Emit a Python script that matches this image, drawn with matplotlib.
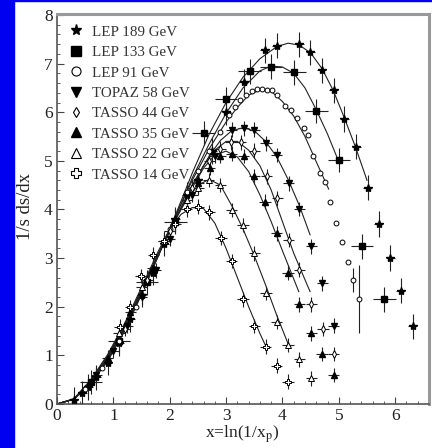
import matplotlib
matplotlib.use("Agg")
import matplotlib.pyplot as plt
from matplotlib.patches import Rectangle
from matplotlib.lines import Line2D
from matplotlib.ticker import MultipleLocator

plt.rcParams['font.family'] = ['Liberation Serif', 'DejaVu Serif']
plt.rcParams['mathtext.fontset'] = 'stix'

labels = ["LEP 189 GeV", "LEP 133 GeV", "LEP 91 GeV", "TOPAZ 58 GeV",
          "TASSO 44 GeV", "TASSO 35 GeV", "TASSO 22 GeV", "TASSO 14 GeV"]

# fit curves
c189_x = [0, 0.3, 0.6, 0.9, 1.2, 1.5, 1.8, 2.1, 2.4, 2.7, 3.0, 3.3, 3.6, 3.9, 4.1, 4.3, 4.5, 4.7, 4.9, 5.1, 5.3, 5.5]
c189_y = [0, 0.1, 0.42, 0.88, 1.5, 2.25, 3.05, 3.88, 4.75, 5.55, 6.2, 6.72, 7.1, 7.35, 7.42, 7.38, 7.22, 6.9, 6.45, 5.88, 5.27, 4.6]
c133_x = [0, 0.3, 0.6, 0.9, 1.2, 1.5, 1.8, 2.1, 2.4, 2.7, 3.0, 3.3, 3.6, 3.8, 4.0, 4.2, 4.4, 4.6, 4.8, 5.0]
c133_y = [0, 0.1, 0.43, 0.9, 1.52, 2.27, 3.05, 3.85, 4.65, 5.35, 5.98, 6.5, 6.85, 6.95, 6.93, 6.8, 6.5, 6.05, 5.55, 4.98]
c91_x = [0, 0.3, 0.6, 0.9, 1.2, 1.5, 1.8, 2.1, 2.4, 2.7, 3.0, 3.2, 3.4, 3.6, 3.8, 4.0, 4.2, 4.4, 4.6, 4.82]
c91_y = [0, 0.1, 0.44, 0.92, 1.55, 2.3, 3.08, 3.85, 4.6, 5.25, 5.8, 6.1, 6.35, 6.46, 6.43, 6.22, 5.92, 5.5, 4.98, 4.42]
c58_x = [0, 0.3, 0.6, 0.9, 1.2, 1.5, 1.8, 2.1, 2.4, 2.7, 2.9, 3.1, 3.3, 3.5, 3.7, 3.9, 4.1, 4.3, 4.49]
c58_y = [0, 0.1, 0.45, 0.93, 1.56, 2.3, 3.08, 3.8, 4.5, 5.1, 5.42, 5.62, 5.68, 5.62, 5.4, 5.08, 4.62, 4.08, 3.48]
c44_x = [0, 0.3, 0.6, 0.9, 1.2, 1.5, 1.8, 2.1, 2.4, 2.6, 2.8, 3.0, 3.2, 3.4, 3.6, 3.8, 4.0, 4.2, 4.49]
c44_y = [0, 0.1, 0.46, 0.95, 1.58, 2.32, 3.08, 3.8, 4.5, 4.9, 5.22, 5.4, 5.4, 5.22, 4.9, 4.4, 3.75, 3.1, 2.31]
c35_x = [0, 0.3, 0.6, 0.9, 1.2, 1.5, 1.8, 2.1, 2.4, 2.6, 2.8, 3.0, 3.2, 3.4, 3.6, 3.8, 4.0, 4.29]
c35_y = [0, 0.1, 0.47, 0.97, 1.6, 2.33, 3.08, 3.78, 4.45, 4.85, 5.12, 5.2, 5.08, 4.78, 4.3, 3.75, 3.15, 2.31]
c22_x = [0, 0.3, 0.6, 0.9, 1.2, 1.5, 1.8, 2.1, 2.3, 2.5, 2.7, 2.9, 3.1, 3.3, 3.5, 3.7, 3.9, 4.11]
c22_y = [0, 0.1, 0.48, 1.0, 1.63, 2.36, 3.1, 3.8, 4.2, 4.5, 4.62, 4.5, 4.08, 3.6, 3.05, 2.45, 1.82, 1.21]
c14_x = [0, 0.3, 0.6, 0.9, 1.2, 1.5, 1.8, 2.0, 2.2, 2.4, 2.6, 2.8, 3.0, 3.2, 3.4, 3.6, 3.7]
c14_y = [0, 0.11, 0.5, 1.02, 1.66, 2.4, 3.15, 3.6, 3.9, 4.04, 4.02, 3.72, 3.2, 2.6, 2.0, 1.45, 1.2]

# data points
d189_x = [0.30, 0.45, 0.55, 0.70, 0.90, 1.10, 1.30, 1.50, 1.70, 1.90, 2.10, 2.30, 2.50, 2.75, 3.00, 3.31, 3.69, 3.90,
          4.30, 4.49, 4.70, 4.91, 5.10, 5.31, 5.51, 5.71, 5.91, 6.10, 6.31]
d189_y = [0.08, 0.22, 0.35, 0.55, 0.85, 1.25, 1.75, 2.25, 2.70, 3.30, 3.80, 4.30, 4.60, 5.20, 6.00, 6.63, 7.27, 7.37,
          7.40, 7.23, 6.86, 6.45, 5.86, 5.29, 4.45, 3.70, 3.00, 2.33, 1.60]
d189_xe = 0.08
d189_ye = 0.26
d133_x = [0.60, 1.10, 1.60, 2.10, 2.60, 3.00, 3.42, 3.80, 4.21, 4.60, 5.00, 5.41, 5.81]
d133_y = [0.45, 1.30, 2.50, 3.75, 5.57, 6.27, 6.84, 6.94, 6.82, 6.03, 5.02, 3.24, 2.15]
d133_xe = 0.2
d133_ye = 0.25
d91_x = [0.5, 0.8, 1.1, 1.4, 1.7, 2.0, 2.3, 2.5, 2.7, 2.9, 3.05, 3.15, 3.25, 3.35, 3.46, 3.55, 3.64, 3.72, 3.81, 3.9,
         4.05, 4.15, 4.26, 4.38, 4.45, 4.55, 4.66, 4.76, 4.85, 4.95, 5.06, 5.16, 5.25, 5.35]
d91_y = [0.3, 0.75, 1.3, 2.0, 2.8, 3.6, 4.35, 4.8, 5.2, 5.6, 5.95, 6.1, 6.26, 6.35, 6.44, 6.47, 6.47, 6.46, 6.45, 6.35,
         6.12, 6.05, 5.88, 5.67, 5.53, 5.09, 4.75, 4.57, 4.16, 3.73, 3.33, 2.92, 2.55, 2.16]
d91_ye = [0.03] * 32 + [0.25, 0.7]
d58_x = [0.7, 1.0, 1.25, 1.5, 1.75, 2.0, 2.4, 2.8, 3.10, 3.31, 3.50, 3.71, 3.90, 4.11, 4.30, 4.51, 4.71, 4.91]
d58_y = [0.6, 1.1, 1.6, 2.2, 2.75, 3.4, 4.3, 5.1, 5.64, 5.67, 5.64, 5.36, 5.12, 4.54, 4.01, 3.24, 2.48, 1.61]
d44_x = [1.2, 1.6, 2.0, 2.4, 2.7, 2.9, 3.08, 3.26, 3.50, 3.72, 3.91, 4.11, 4.30, 4.51, 4.72, 4.91]
d44_y = [1.55, 2.55, 3.55, 4.45, 5.0, 5.25, 5.38, 5.38, 5.21, 4.68, 4.23, 3.37, 2.76, 2.05, 1.54, 1.03]
d35_x = [0.9, 1.3, 1.7, 2.1, 2.5, 2.71, 2.90, 3.10, 3.31, 3.50, 3.69, 3.90, 4.10, 4.30, 4.51, 4.70, 4.91]
d35_y = [0.95, 1.9, 2.8, 3.75, 4.55, 4.85, 5.10, 5.15, 5.10, 4.68, 4.16, 3.51, 2.70, 2.05, 1.45, 1.03, 0.60]
d22_x = [1.1, 1.5, 1.9, 2.3, 2.50, 2.69, 2.90, 3.10, 3.30, 3.50, 3.71, 3.90, 4.10, 4.30, 4.51]
d22_y = [1.45, 2.4, 3.35, 4.2, 4.45, 4.61, 4.50, 3.99, 3.68, 3.10, 2.28, 1.69, 1.21, 0.92, 0.53]
d14_x = [1.11, 1.30, 1.49, 1.71, 1.90, 2.10, 2.30, 2.51, 2.70, 2.91, 3.10, 3.30, 3.50, 3.70, 3.90, 4.10]
d14_y = [1.59, 1.99, 2.63, 3.07, 3.35, 3.70, 4.00, 4.06, 3.94, 3.41, 2.94, 2.15, 1.60, 1.18, 0.79, 0.46]
tasso_xe = 0.1
tasso_ye = 0.15

fig = plt.figure(figsize=(4.32, 4.48), dpi=100)
fig.patch.set_facecolor('white')
fig.patches.append(Rectangle((0, 0), 14 / 432, 1, transform=fig.transFigure, color='#0000f0', zorder=-1))
fig.patches.append(Rectangle((0, 1 - 1.5 / 448), 1, 1.5 / 448, transform=fig.transFigure, color='#0000f0', zorder=-1))

ax = fig.add_axes([57 / 432, 1 - 404 / 448, (429 - 57) / 432, (404 - 14) / 448])
ax.set_xlim(0, 6.6)
ax.set_ylim(0, 8.02)

curves = [(c189_x, c189_y), (c133_x, c133_y), (c91_x, c91_y), (c58_x, c58_y),
          (c44_x, c44_y), (c35_x, c35_y), (c22_x, c22_y), (c14_x, c14_y)]
for cx, cy in curves:
    ax.plot(cx, cy, color='#222222', lw=0.8, zorder=2)

ebkw = dict(ecolor='#222222', elinewidth=0.8, capsize=0, ls='none', zorder=3)
ax.errorbar(d189_x, d189_y, xerr=d189_xe, yerr=d189_ye, marker='*', ms=6, mfc='black', mec='black', **ebkw)
ax.errorbar(d133_x, d133_y, xerr=d133_xe, yerr=d133_ye, marker='s', ms=4.5, mfc='black', mec='black', **ebkw)
ax.errorbar(d91_x, d91_y, yerr=d91_ye, marker='o', ms=3.5, mfc='white', mec='black', mew=0.7, **ebkw)
ax.errorbar(d58_x, d58_y, xerr=tasso_xe, yerr=tasso_ye, marker='v', ms=4.5, mfc='black', mec='black', **ebkw)
ax.errorbar(d44_x, d44_y, xerr=tasso_xe, yerr=tasso_ye, marker='d', ms=4, mfc='white', mec='black', mew=0.7, **ebkw)
ax.errorbar(d35_x, d35_y, xerr=tasso_xe, yerr=tasso_ye, marker='^', ms=4.5, mfc='black', mec='black', **ebkw)
ax.errorbar(d22_x, d22_y, xerr=tasso_xe, yerr=tasso_ye, marker='^', ms=4.5, mfc='white', mec='black', mew=0.7, **ebkw)
ax.errorbar(d14_x, d14_y, xerr=tasso_xe, yerr=tasso_ye, marker='P', ms=4.5, mfc='white', mec='black', mew=0.7, **ebkw)

handles = [
    Line2D([], [], ls='none', marker='*', ms=8, mfc='black', mec='black'),
    Line2D([], [], ls='none', marker='s', ms=6.5, mfc='black', mec='black'),
    Line2D([], [], ls='none', marker='o', ms=6.5, mfc='white', mec='black', mew=0.8),
    Line2D([], [], ls='none', marker='v', ms=7, mfc='black', mec='black'),
    Line2D([], [], ls='none', marker='d', ms=5.5, mfc='white', mec='black', mew=0.8),
    Line2D([], [], ls='none', marker='^', ms=7, mfc='black', mec='black'),
    Line2D([], [], ls='none', marker='^', ms=7, mfc='white', mec='black', mew=0.8),
    Line2D([], [], ls='none', marker='P', ms=6.5, mfc='white', mec='black', mew=0.8),
]
leg = ax.legend(handles, labels, loc='upper left', frameon=False, fontsize=10.8,
                handlelength=1.0, handletextpad=0.55, labelspacing=0.46,
                borderaxespad=0.4, borderpad=0.35)
for t in leg.get_texts():
    t.set_color('#333333')

ax.xaxis.set_major_locator(MultipleLocator(1))
ax.xaxis.set_minor_locator(MultipleLocator(0.2))
ax.yaxis.set_major_locator(MultipleLocator(1))
ax.yaxis.set_minor_locator(MultipleLocator(0.2))
ax.tick_params(which='both', direction='in', top=False, right=False, colors='#444444', labelcolor='#222222')
ax.tick_params(which='major', length=5, width=0.8, labelsize=12.5, pad=3)
ax.tick_params(which='minor', length=2.5, width=0.6)

for s in ['left', 'bottom']:
    ax.spines[s].set_color('#555555')
    ax.spines[s].set_linewidth(1.2)
for s in ['top', 'right']:
    ax.spines[s].set_color('#999999')
    ax.spines[s].set_linewidth(2.2)

fig.text(25 / 432, 1 - 206 / 448, '1/s ds/dx', rotation=90, ha='center', va='center',
         fontsize=13.5, color='#222222')
fig.text(242 / 432, 1 - 434 / 448, r'x=ln(1/x$_{\rm p}$)', ha='center', va='center',
         fontsize=12.5, color='#222222')

fig.savefig('out.png', dpi=100)
